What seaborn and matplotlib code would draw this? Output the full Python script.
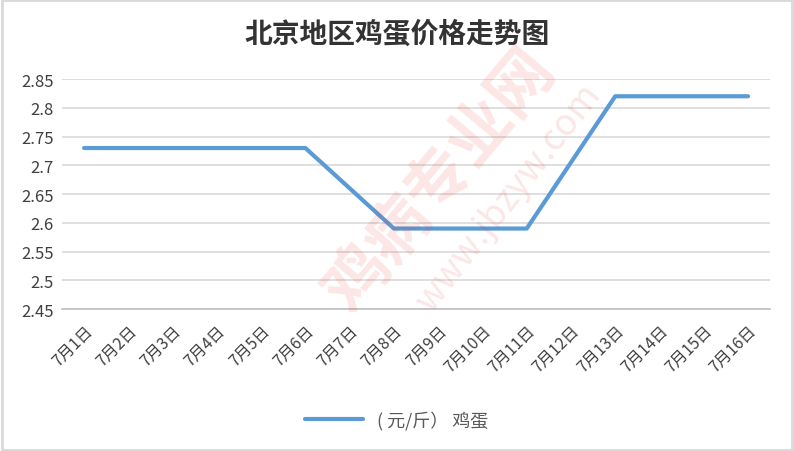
import numpy as np
import pandas as pd
import seaborn as sns
import matplotlib.pyplot as plt
from matplotlib.patches import Rectangle

# данные: цена яиц, Пекин, 1-16 июля
dates = ['7月%d日' % d for d in range(1, 17)]
prices = [2.73, 2.73, 2.73, 2.73, 2.73, 2.73, 2.66, 2.59,
          2.59, 2.59, 2.59, 2.705, 2.82, 2.82, 2.82, 2.82]
series_name = '( 元/斤） 鸡蛋'
title = '北京地区鸡蛋价格走势图'

sns.set_style('white')
plt.rcParams['font.family'] = ['Noto Sans CJK SC', 'DejaVu Sans']

df = pd.DataFrame({'date': dates, 'price': prices})
df['pos'] = np.arange(len(dates))

fig = plt.figure(figsize=(7.94, 4.52), dpi=100)
ax = fig.add_axes([0.078, 0.314, 0.892, 0.509])

# водяной знак
fig.text(0.555, 0.60, '鸡病专业网', rotation=50, fontsize=46, fontweight='bold',
         color='#e83030', alpha=0.12, ha='center', va='center')
fig.text(0.64, 0.56, 'www.jbzyw.com', rotation=52, fontsize=26,
         color='#e83030', alpha=0.12, ha='center', va='center')

sns.lineplot(data=df, x='pos', y='price', ax=ax, color='#5B9BD5',
             linewidth=3, label=series_name, legend=False)

ax.set_xlim(-0.5, len(dates) - 0.5)
ax.set_ylim(2.45, 2.85)
ax.set_yticks(np.arange(2.45, 2.851, 0.05))
ax.set_yticklabels(['2.45', '2.5', '2.55', '2.6', '2.65', '2.7', '2.75', '2.8', '2.85'])
ax.yaxis.grid(True, color='#D9D9D9', linewidth=1.2)
ax.set_axisbelow(True)

ax.set_xticks(df['pos'])
ax.set_xticklabels(dates, rotation=45, ha='right', rotation_mode='anchor')
ax.set_xticks(np.arange(-0.5, len(dates), 1), minor=True)
ax.tick_params(axis='x', which='major', length=0, pad=9, labelsize=11.5, labelcolor='#404040')
ax.tick_params(axis='x', which='minor', length=5, color='#BFBFBF', width=1.2)
ax.tick_params(axis='y', length=0, labelsize=12, labelcolor='#404040', pad=6)

for s in ['top', 'right', 'left']:
    ax.spines[s].set_visible(False)
ax.spines['bottom'].set_color('#BFBFBF')
ax.spines['bottom'].set_linewidth(1.2)
ax.set_xlabel('')
ax.set_ylabel('')

fig.text(0.5, 0.923, title, ha='center', va='center', fontsize=20, fontweight='bold',
         color='#333333')

handles, labels = ax.get_legend_handles_labels()
fig.legend(handles, labels, loc='center', bbox_to_anchor=(0.5, 0.068), frameon=False,
           fontsize=13, labelcolor='#595959', handlelength=3.2)

fig.patches.append(Rectangle((0.002, 0.003), 0.995, 0.994, transform=fig.transFigure,
                             fill=False, edgecolor='#D9D9D9', linewidth=2))

fig.savefig('out.png', dpi=100)
